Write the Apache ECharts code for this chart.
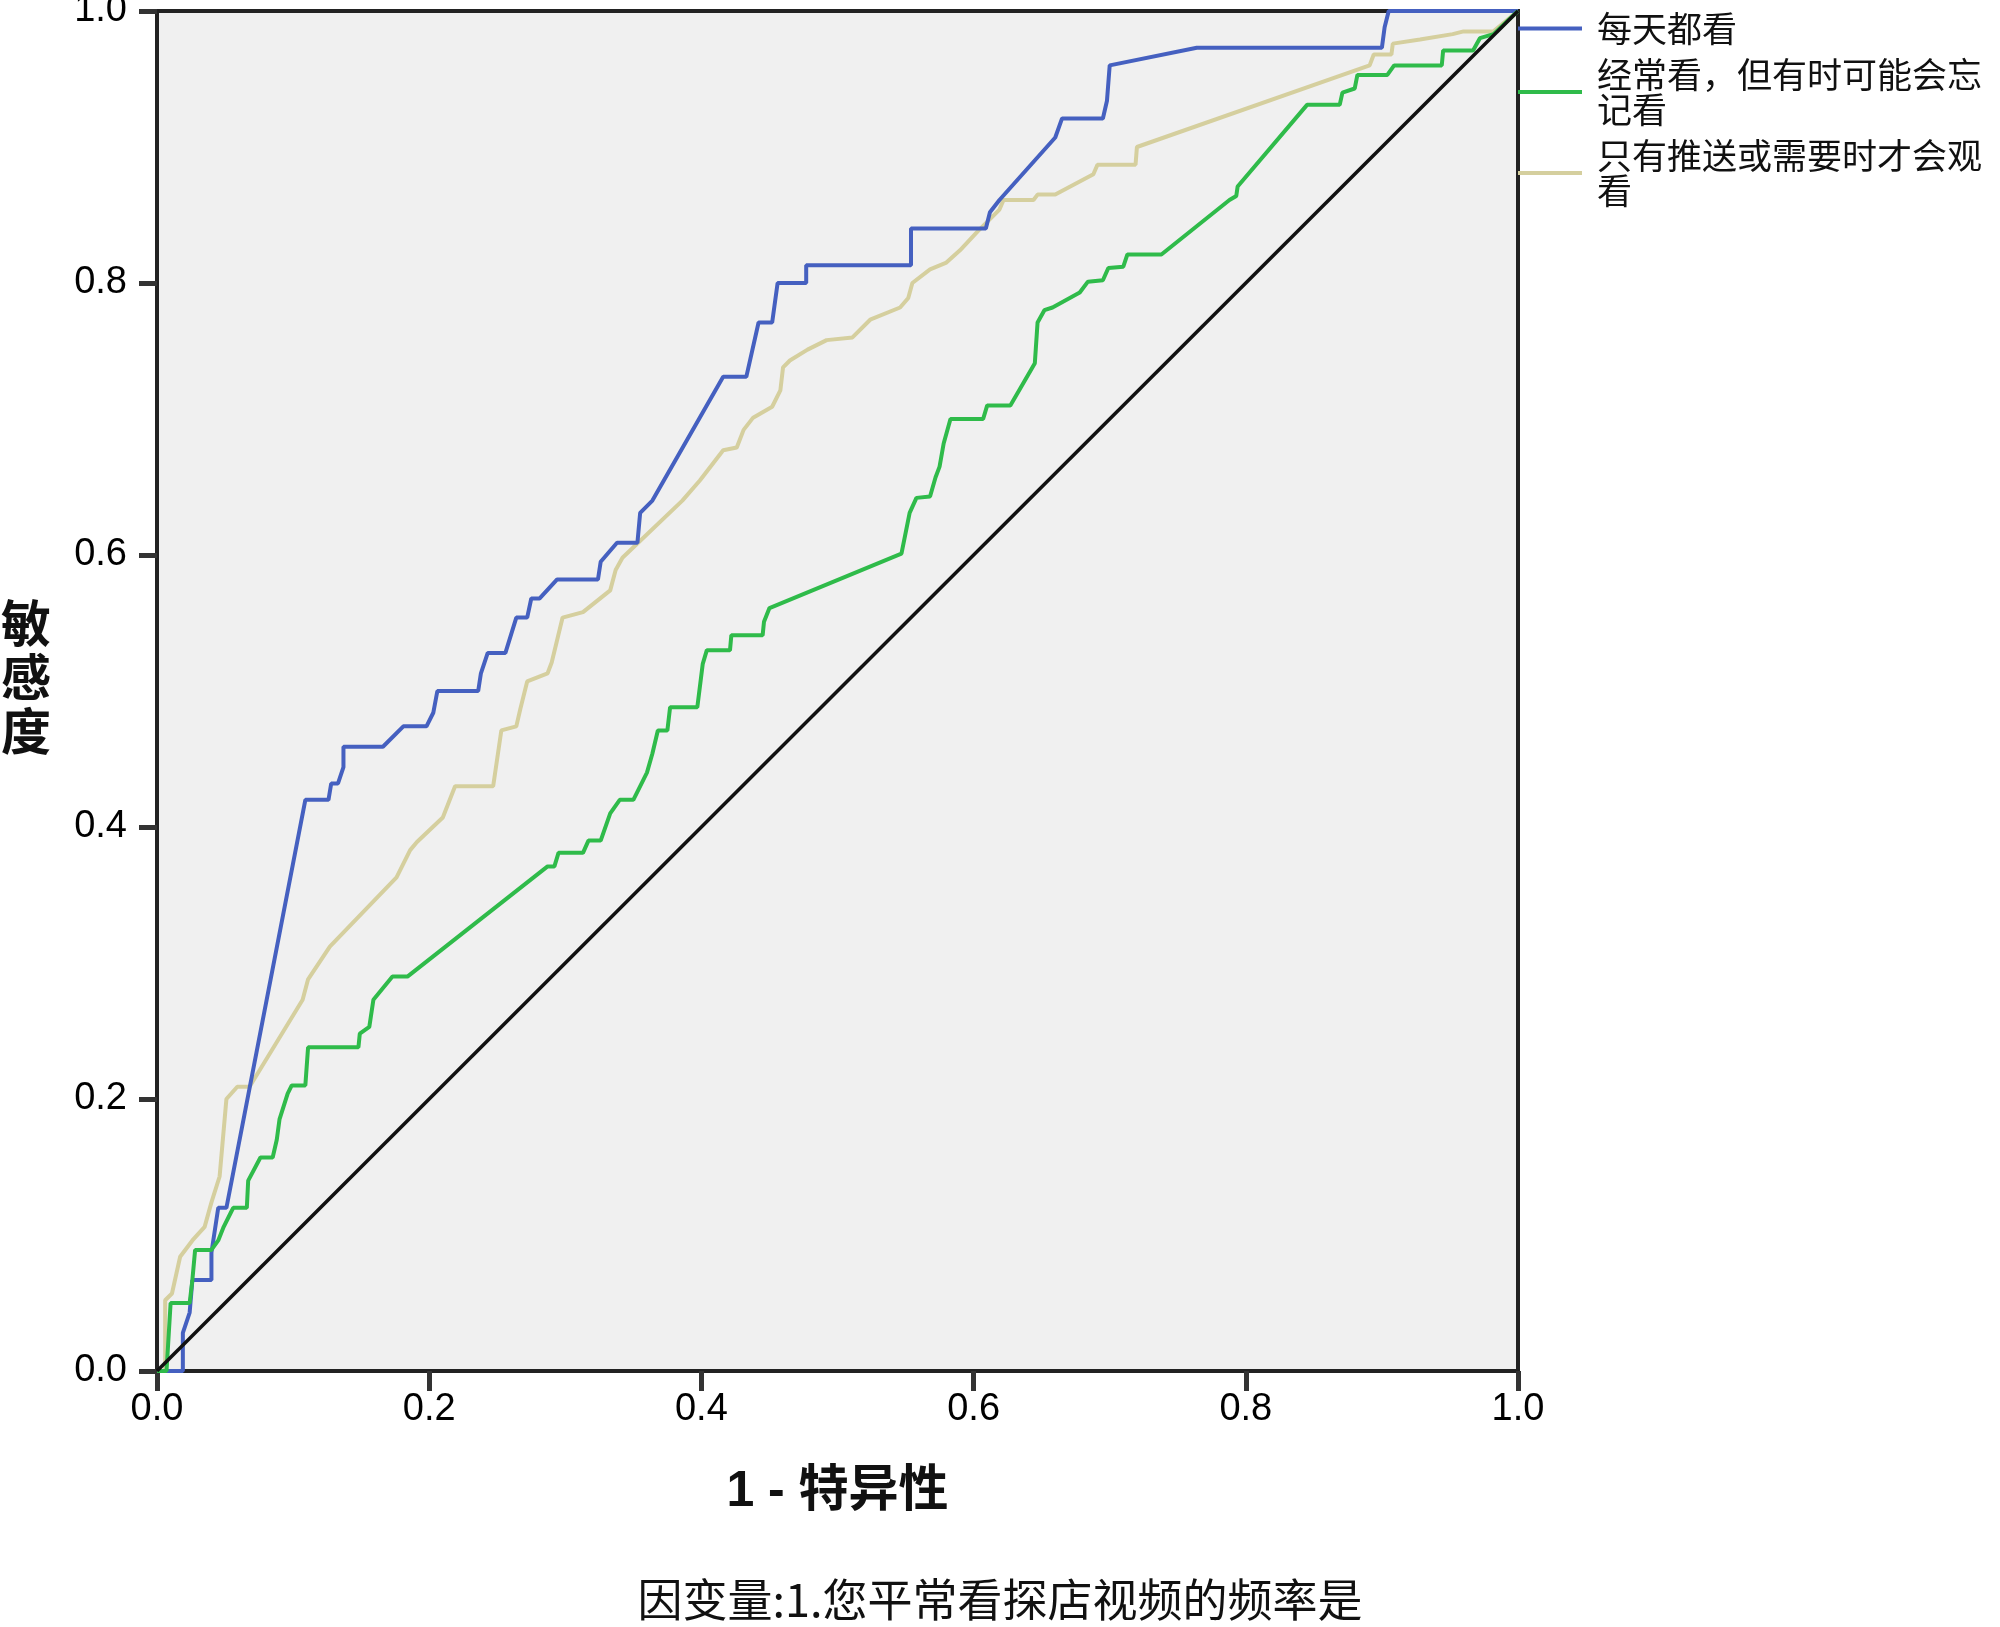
<!DOCTYPE html>
<html>
<head>
<meta charset="utf-8">
<script src="https://cdn.jsdelivr.net/npm/echarts@6/dist/echarts.min.js"></script>
<style>
  html, body { margin: 0; padding: 0; background: #fff; }
  #main { width: 2000px; height: 1627px; }
</style>
</head>
<body>
<div id="main"></div>
<script>
// 图例名称
var seriesNames = ["每天都看", "经常看，但有时可能会忘记看", "只有推送或需要时才会观看"];
// 图例换行后的文字
var legendText = {
  "每天都看": "每天都看",
  "经常看，但有时可能会忘记看": "经常看，但有时可能会忘\n记看",
  "只有推送或需要时才会观看": "只有推送或需要时才会观\n看"
};

// ROC 曲线：[1 - 特异性, 敏感度]
var dailyData = [
  [0, 0], [0.019, 0], [0.019, 0.028], [0.024, 0.043], [0.026, 0.067], [0.040, 0.067],
  [0.040, 0.087], [0.045, 0.12], [0.051, 0.12], [0.109, 0.42], [0.126, 0.42], [0.128, 0.432],
  [0.133, 0.432], [0.137, 0.444], [0.137, 0.459], [0.166, 0.459], [0.181, 0.474], [0.198, 0.474],
  [0.203, 0.484], [0.206, 0.50], [0.236, 0.50], [0.238, 0.513], [0.243, 0.528], [0.256, 0.528],
  [0.264, 0.554], [0.272, 0.554], [0.275, 0.568], [0.281, 0.568], [0.294, 0.582], [0.324, 0.582],
  [0.326, 0.595], [0.338, 0.609], [0.353, 0.609], [0.355, 0.631], [0.364, 0.64], [0.416, 0.731],
  [0.433, 0.731], [0.442, 0.771], [0.452, 0.771], [0.456, 0.80], [0.477, 0.80], [0.477, 0.813],
  [0.554, 0.813], [0.554, 0.84], [0.609, 0.84], [0.612, 0.852], [0.619, 0.861], [0.66, 0.907],
  [0.665, 0.921], [0.695, 0.921], [0.698, 0.934], [0.70, 0.96], [0.764, 0.973], [0.90, 0.973],
  [0.902, 0.988], [0.905, 1.0], [1, 1]
];
var oftenData = [
  [0, 0], [0.007, 0], [0.010, 0.05], [0.024, 0.05], [0.026, 0.067], [0.028, 0.089], [0.040, 0.089],
  [0.045, 0.096], [0.049, 0.106], [0.054, 0.116], [0.056, 0.12], [0.066, 0.12], [0.067, 0.14],
  [0.076, 0.157], [0.085, 0.157], [0.088, 0.17], [0.090, 0.185], [0.096, 0.204], [0.099, 0.21],
  [0.109, 0.21], [0.111, 0.238], [0.148, 0.238], [0.149, 0.248], [0.156, 0.253], [0.159, 0.273],
  [0.173, 0.29], [0.184, 0.29], [0.287, 0.371], [0.292, 0.371], [0.295, 0.381], [0.313, 0.381],
  [0.317, 0.39], [0.326, 0.39], [0.333, 0.41], [0.34, 0.42], [0.35, 0.42], [0.36, 0.44],
  [0.364, 0.454], [0.368, 0.471], [0.375, 0.471], [0.377, 0.488], [0.397, 0.488], [0.401, 0.52],
  [0.404, 0.53], [0.421, 0.53], [0.422, 0.541], [0.445, 0.541], [0.446, 0.551], [0.45, 0.561],
  [0.547, 0.601], [0.553, 0.631], [0.558, 0.642], [0.568, 0.643], [0.572, 0.657], [0.575, 0.665],
  [0.578, 0.682], [0.583, 0.70], [0.607, 0.70], [0.61, 0.71], [0.627, 0.71], [0.645, 0.741],
  [0.647, 0.771], [0.652, 0.78], [0.658, 0.782], [0.678, 0.793], [0.684, 0.801], [0.695, 0.802],
  [0.699, 0.811], [0.71, 0.812], [0.713, 0.821], [0.738, 0.821], [0.788, 0.861], [0.793, 0.864],
  [0.794, 0.871], [0.845, 0.931], [0.869, 0.931], [0.871, 0.94], [0.88, 0.943], [0.882, 0.953],
  [0.904, 0.953], [0.909, 0.96], [0.944, 0.96], [0.945, 0.971], [0.967, 0.971], [0.972, 0.98],
  [0.982, 0.983], [1, 1]
];
var pushData = [
  [0, 0], [0.006, 0], [0.006, 0.052], [0.011, 0.057], [0.017, 0.084], [0.026, 0.096],
  [0.035, 0.106], [0.040, 0.124], [0.046, 0.143], [0.051, 0.20], [0.059, 0.209], [0.068, 0.209],
  [0.107, 0.273], [0.111, 0.288], [0.127, 0.312], [0.176, 0.363], [0.186, 0.383], [0.191, 0.389],
  [0.21, 0.407], [0.219, 0.43], [0.247, 0.43], [0.253, 0.471], [0.264, 0.474], [0.267, 0.487],
  [0.272, 0.507], [0.287, 0.513], [0.29, 0.521], [0.298, 0.554], [0.313, 0.558], [0.333, 0.574],
  [0.337, 0.589], [0.342, 0.598], [0.386, 0.64], [0.399, 0.655], [0.416, 0.677], [0.426, 0.679],
  [0.431, 0.692], [0.438, 0.701], [0.452, 0.709], [0.458, 0.721], [0.46, 0.738], [0.465, 0.743],
  [0.478, 0.751], [0.492, 0.758], [0.511, 0.76], [0.524, 0.773], [0.546, 0.782], [0.552, 0.789],
  [0.555, 0.80], [0.568, 0.81], [0.58, 0.815], [0.59, 0.824], [0.603, 0.838], [0.619, 0.854],
  [0.622, 0.861], [0.644, 0.861], [0.647, 0.865], [0.66, 0.865], [0.688, 0.88], [0.691, 0.887],
  [0.719, 0.887], [0.72, 0.90], [0.891, 0.96], [0.894, 0.968], [0.907, 0.968], [0.908, 0.976],
  [0.928, 0.979], [0.952, 0.983], [0.96, 0.985], [0.982, 0.985], [1, 1]
];
// 参考线
var refLine = [[0, 0], [1, 1]];

var lineColors = ["#4560c0", "#2fbb4a", "#d5cf9e"];

var myChart = echarts.init(document.getElementById("main"));
var option = {
  backgroundColor: "#fff",
  animation: false,
  title: {
    text: "因变量:1.您平常看探店视频的频率是",
    left: "center",
    top: 1577,
    padding: 0,
    textStyle: {
      fontFamily: "Noto Sans CJK SC",
      fontSize: 45,
      fontWeight: "normal",
      color: "#111"
    }
  },
  legend: {
    data: seriesNames,
    orient: "vertical",
    left: 1518,
    top: 11,
    padding: 0,
    itemWidth: 64,
    itemHeight: 4,
    itemGap: 11,
    icon: "rect",
    formatter: function (name) {
      return legendText[name];
    },
    textStyle: {
      fontFamily: "Noto Sans CJK SC",
      fontSize: 35,
      lineHeight: 35,
      color: "#111",
      padding: [0, 0, 0, 10]
    }
  },
  grid: {
    left: 157,
    top: 11,
    width: 1361,
    height: 1360,
    outerBoundsMode: "none",
    containLabel: false,
    show: true,
    backgroundColor: "#f0f0f0",
    borderColor: "#222",
    borderWidth: 4
  },
  xAxis: {
    type: "value",
    min: 0,
    max: 1,
    interval: 0.2,
    name: "1 - 特异性",
    nameLocation: "middle",
    nameGap: 96,
    nameTextStyle: {
      fontFamily: "Liberation Sans, Noto Sans CJK SC",
      fontSize: 50,
      fontWeight: "bold",
      color: "#111"
    },
    axisLine: { lineStyle: { color: "#222", width: 4 } },
    axisTick: { length: 20, lineStyle: { color: "#333", width: 5 } },
    axisLabel: {
      margin: 20,
      fontFamily: "Liberation Sans",
      fontSize: 38,
      color: "#000",
      formatter: function (v) { return v.toFixed(1); }
    },
    splitLine: { show: false }
  },
  yAxis: {
    type: "value",
    min: 0,
    max: 1,
    interval: 0.2,
    // 末尾空行把竖排标题往上挪一点
    name: "{a|敏}\n{a|感}\n{a|度}\n{s|}",
    nameLocation: "middle",
    nameRotate: 0,
    nameGap: 106,
    nameTextStyle: {
      rich: {
        a: {
          fontFamily: "Noto Sans CJK SC",
          fontSize: 50,
          fontWeight: "bold",
          lineHeight: 54,
          color: "#111"
        },
        s: { fontSize: 10, lineHeight: 28 }
      }
    },
    axisLine: { lineStyle: { color: "#222", width: 4 } },
    axisTick: { length: 18, lineStyle: { color: "#333", width: 5 } },
    axisLabel: {
      margin: 30,
      fontFamily: "Liberation Sans",
      fontSize: 38,
      color: "#000",
      formatter: function (v) { return v.toFixed(1); }
    },
    splitLine: { show: false }
  },
  series: [
    {
      name: seriesNames[0],
      type: "line",
      data: dailyData,
      showSymbol: false,
      color: lineColors[0],
      lineStyle: { width: 4 },
      z: 3
    },
    {
      name: seriesNames[1],
      type: "line",
      data: oftenData,
      showSymbol: false,
      color: lineColors[1],
      lineStyle: { width: 4 },
      z: 3
    },
    {
      name: seriesNames[2],
      type: "line",
      data: pushData,
      showSymbol: false,
      color: lineColors[2],
      lineStyle: { width: 4 },
      z: 2
    },
    {
      name: "参考线",
      type: "line",
      data: refLine,
      showSymbol: false,
      color: "#111",
      lineStyle: { width: 3.5 },
      z: 4
    }
  ]
};
option && myChart.setOption(option);
</script>
</body>
</html>
